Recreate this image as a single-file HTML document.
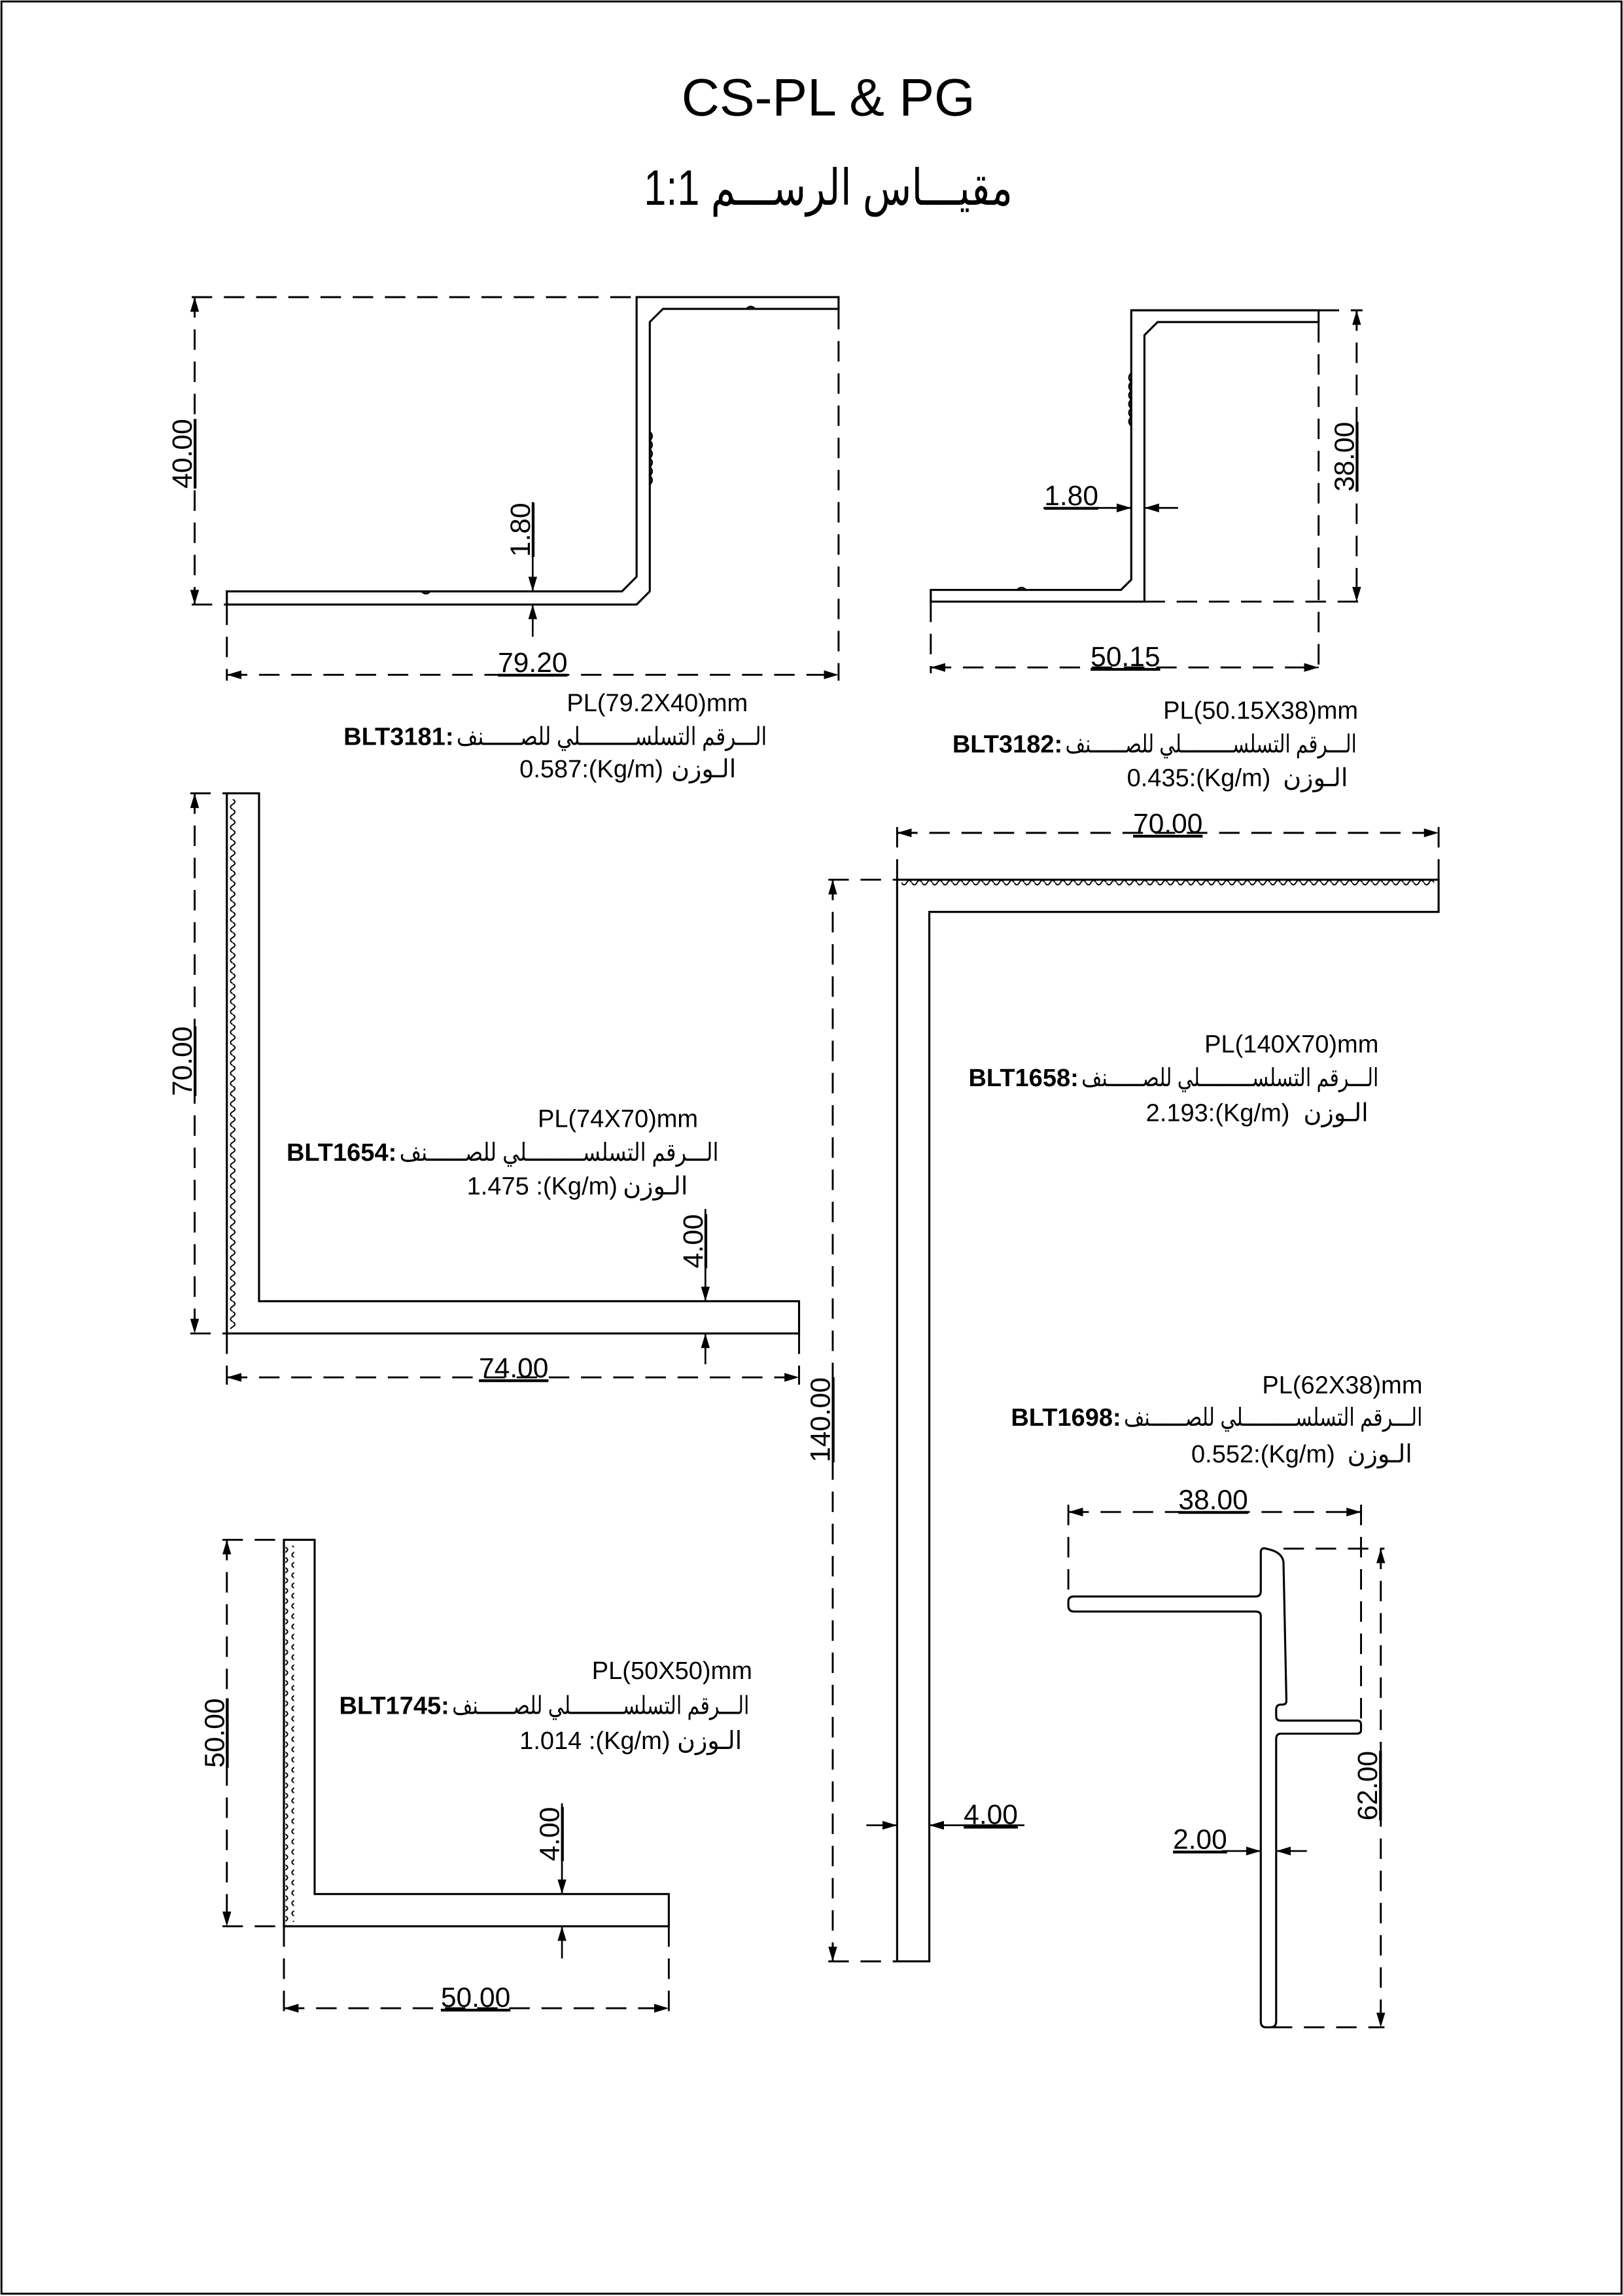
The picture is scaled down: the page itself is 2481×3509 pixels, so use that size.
<!DOCTYPE html>
<html><head><meta charset="utf-8">
<style>
html,body{margin:0;padding:0;background:#fff;}
svg{display:block;}
text{font-family:"Liberation Sans","DejaVu Sans",sans-serif;fill:#000;}
.ar{font-family:"Liberation Sans","DejaVu Sans","Noto Sans CJK SC",sans-serif;}
.p{fill:none;stroke:#000;stroke-width:1.4;}
.d{fill:none;stroke:#000;stroke-width:1.3;stroke-dasharray:14 8;}
.s{fill:none;stroke:#000;stroke-width:1.2;}
.lbl{font-size:17px;}
.dim{font-size:19px;}
</style></head><body>
<svg width="2481" height="3509" viewBox="0 0 1109 1568.6" preserveAspectRatio="none" xmlns="http://www.w3.org/2000/svg">
<defs>
<marker id="a" viewBox="0 0 10 6" refX="10" refY="3" markerWidth="10" markerHeight="6" markerUnits="userSpaceOnUse" orient="auto-start-reverse"><path d="M0 0 L10 3 L0 6 Z" fill="#000"/></marker>
<pattern id="wv" width="6" height="7" patternUnits="userSpaceOnUse"><path d="M3 0 Q6 1.75 3 3.5 Q0 5.25 3 7" fill="none" stroke="#000" stroke-width="0.9"/></pattern>
<pattern id="wh" width="7" height="6" patternUnits="userSpaceOnUse"><path d="M0 3 Q1.75 6 3.5 3 Q5.25 0 7 3" fill="none" stroke="#000" stroke-width="0.9"/></pattern>
</defs>
<rect x="1" y="1" width="1107" height="1566" fill="none" stroke="#000" stroke-width="1.3"/>

<text x="566" y="79" font-size="36" text-anchor="middle">CS-PL &amp; PG</text>
<text x="440" y="140" font-size="34" class="ar" textLength="252" lengthAdjust="spacingAndGlyphs">مقيـــاس الرســـم 1:1</text>

<!-- BLT3181 -->
<path class="p" d="M155 404 L425 404 L435 394 L435 203 L573 203 L573 211 L453 211 L444 220 L444 404 L435 413 L155 413 Z"/>
<path class="s" d="M444 295 q3 3 0 6 q3 3 0 6 q3 3 0 6 q3 3 0 6 q3 3 0 6 q3 3 0 6 M510 211 q3 -3 6 0 M288 404 q3 3 6 0"/>
<line class="d" x1="131" y1="203" x2="435" y2="203"/>
<line class="d" x1="131" y1="413" x2="155" y2="413"/>
<line class="d" x1="133" y1="203" x2="133" y2="413" marker-start="url(#a)" marker-end="url(#a)"/>
<line class="d" x1="573" y1="211" x2="573" y2="465"/>
<line class="d" x1="155" y1="413" x2="155" y2="465"/>
<line class="d" x1="155" y1="461" x2="573" y2="461" marker-start="url(#a)" marker-end="url(#a)"/>
<text x="364" y="459" class="dim" text-anchor="middle" text-decoration="underline">79.20</text>
<text transform="translate(131,310) rotate(-90)" class="dim" text-anchor="middle" text-decoration="underline">40.00</text>
<text transform="translate(362,362) rotate(-90)" class="dim" text-anchor="middle" text-decoration="underline">1.80</text>
<line class="s" x1="364" y1="343" x2="364" y2="404" marker-end="url(#a)"/>
<line class="s" x1="364" y1="435" x2="364" y2="413" marker-end="url(#a)"/>
<text x="511" y="486" class="lbl" text-anchor="end">PL(79.2X40)mm</text>
<text x="310" y="509" class="lbl" text-anchor="end" font-weight="bold">BLT3181:</text>
<text x="312" y="509" class="lbl ar" textLength="212" lengthAdjust="spacingAndGlyphs">الـــرقم التسلســـــــــلي للصــــــنف</text>
<text x="355" y="531" class="lbl">0.587:(Kg/m)</text>
<text x="503" y="531" class="lbl ar" text-anchor="end">الـوزن</text>

<!-- BLT3182 -->
<path class="p" d="M636 403 L766 403 L773 396 L773 212 L901 212 L901 220 L791 220 L782 229 L782 411 L636 411 Z"/>
<path class="s" d="M773 255 q-3 3 0 6 q-3 3 0 6 q-3 3 0 6 q-3 3 0 6 q-3 3 0 6 q-3 3 0 6 M695 403 q3 -3 6 0"/>
<line class="d" x1="901" y1="212" x2="931" y2="212"/>
<line class="d" x1="782" y1="411" x2="931" y2="411"/>
<line class="d" x1="927" y1="212" x2="927" y2="411" marker-start="url(#a)" marker-end="url(#a)"/>
<line class="d" x1="636" y1="411" x2="636" y2="460"/>
<line class="d" x1="901" y1="220" x2="901" y2="460"/>
<line class="d" x1="636" y1="456" x2="901" y2="456" marker-start="url(#a)" marker-end="url(#a)"/>
<text x="769" y="455" class="dim" text-anchor="middle" text-decoration="underline">50.15</text>
<text transform="translate(925,312) rotate(-90)" class="dim" text-anchor="middle" text-decoration="underline">38.00</text>
<text x="732" y="345" class="dim" text-anchor="middle" text-decoration="underline">1.80</text>
<line class="s" x1="713" y1="347" x2="773" y2="347" marker-end="url(#a)"/>
<line class="s" x1="805" y1="347" x2="782" y2="347" marker-end="url(#a)"/>
<text x="928" y="491" class="lbl" text-anchor="end">PL(50.15X38)mm</text>
<text x="726" y="514" class="lbl" text-anchor="end" font-weight="bold">BLT3182:</text>
<text x="728" y="514" class="lbl ar" textLength="199" lengthAdjust="spacingAndGlyphs">الـــرقم التسلســـــــــلي للصــــــنف</text>
<text x="770" y="537" class="lbl">0.435:(Kg/m)</text>
<text x="921" y="537" class="lbl ar" text-anchor="end">الـوزن</text>

<!-- BLT1654 -->
<path class="p" d="M155 542 L177 542 L177 889 L546 889 L546 911 L155 911 Z"/>
<rect x="156" y="546" width="6" height="362" fill="url(#wv)"/>
<line class="d" x1="130" y1="542" x2="155" y2="542"/>
<line class="d" x1="130" y1="911" x2="155" y2="911"/>
<line class="d" x1="133" y1="542" x2="133" y2="911" marker-start="url(#a)" marker-end="url(#a)"/>
<line class="d" x1="155" y1="911" x2="155" y2="946"/>
<line class="d" x1="546" y1="911" x2="546" y2="946"/>
<line class="d" x1="155" y1="941" x2="546" y2="941" marker-start="url(#a)" marker-end="url(#a)"/>
<text x="351" y="941" class="dim" text-anchor="middle" text-decoration="underline">74.00</text>
<text transform="translate(131,725) rotate(-90)" class="dim" text-anchor="middle" text-decoration="underline">70.00</text>
<text transform="translate(480,848) rotate(-90)" class="dim" text-anchor="middle" text-decoration="underline">4.00</text>
<line class="s" x1="482" y1="826" x2="482" y2="889" marker-end="url(#a)"/>
<line class="s" x1="482" y1="932" x2="482" y2="911" marker-end="url(#a)"/>
<text x="477" y="770" class="lbl" text-anchor="end">PL(74X70)mm</text>
<text x="271" y="793" class="lbl" text-anchor="end" font-weight="bold">BLT1654:</text>
<text x="273" y="793" class="lbl ar" textLength="218" lengthAdjust="spacingAndGlyphs">الـــرقم التسلســـــــــلي للصــــــنف</text>
<text x="319" y="816" class="lbl">1.475 :(Kg/m)</text>
<text x="470" y="816" class="lbl ar" text-anchor="end">الـوزن</text>

<!-- BLT1658 -->
<path class="p" d="M613 601 L983 601 L983 623 L635 623 L635 1340 L613 1340 Z"/>
<rect x="616" y="600" width="364" height="6" fill="url(#wh)"/>
<line class="d" x1="613" y1="565" x2="613" y2="601"/>
<line class="d" x1="983" y1="565" x2="983" y2="601"/>
<line class="d" x1="613" y1="569" x2="983" y2="569" marker-start="url(#a)" marker-end="url(#a)"/>
<text x="798" y="569" class="dim" text-anchor="middle" text-decoration="underline">70.00</text>
<line class="d" x1="566" y1="601" x2="613" y2="601"/>
<line class="d" x1="566" y1="1340" x2="613" y2="1340"/>
<line class="d" x1="569" y1="601" x2="569" y2="1340" marker-start="url(#a)" marker-end="url(#a)"/>
<text transform="translate(567,970) rotate(-90)" class="dim" text-anchor="middle" text-decoration="underline">140.00</text>
<text x="677" y="1246" class="dim" text-anchor="middle" text-decoration="underline">4.00</text>
<line class="s" x1="592" y1="1247" x2="613" y2="1247" marker-end="url(#a)"/>
<line class="s" x1="700" y1="1247" x2="635" y2="1247" marker-end="url(#a)"/>
<text x="942" y="719" class="lbl" text-anchor="end">PL(140X70)mm</text>
<text x="737" y="742" class="lbl" text-anchor="end" font-weight="bold">BLT1658:</text>
<text x="739" y="742" class="lbl ar" textLength="203" lengthAdjust="spacingAndGlyphs">الـــرقم التسلســـــــــلي للصــــــنف</text>
<text x="783" y="766" class="lbl">2.193:(Kg/m)</text>
<text x="935" y="766" class="lbl ar" text-anchor="end">الـوزن</text>

<!-- BLT1745 -->
<path class="p" d="M194 1052 L215 1052 L215 1294 L457 1294 L457 1316 L194 1316 Z"/>
<rect x="195" y="1056" width="6" height="257" fill="url(#wv)"/>
<line class="d" x1="152" y1="1052" x2="194" y2="1052"/>
<line class="d" x1="152" y1="1316" x2="194" y2="1316"/>
<line class="d" x1="155" y1="1052" x2="155" y2="1316" marker-start="url(#a)" marker-end="url(#a)"/>
<line class="d" x1="194" y1="1316" x2="194" y2="1376"/>
<line class="d" x1="457" y1="1316" x2="457" y2="1376"/>
<line class="d" x1="194" y1="1372" x2="457" y2="1372" marker-start="url(#a)" marker-end="url(#a)"/>
<text x="325" y="1371" class="dim" text-anchor="middle" text-decoration="underline">50.00</text>
<text transform="translate(153,1184) rotate(-90)" class="dim" text-anchor="middle" text-decoration="underline">50.00</text>
<text transform="translate(382,1253) rotate(-90)" class="dim" text-anchor="middle" text-decoration="underline">4.00</text>
<line class="s" x1="384" y1="1232" x2="384" y2="1294" marker-end="url(#a)"/>
<line class="s" x1="384" y1="1338" x2="384" y2="1316" marker-end="url(#a)"/>
<text x="514" y="1147" class="lbl" text-anchor="end">PL(50X50)mm</text>
<text x="307" y="1171" class="lbl" text-anchor="end" font-weight="bold">BLT1745:</text>
<text x="309" y="1171" class="lbl ar" textLength="203" lengthAdjust="spacingAndGlyphs">الـــرقم التسلســـــــــلي للصــــــنف</text>
<text x="355" y="1195" class="lbl">1.014 :(Kg/m)</text>
<text x="507" y="1195" class="lbl ar" text-anchor="end">الـوزن</text>

<!-- BLT1698 -->
<path class="p" d="M861.5 1060 Q862 1057 865 1058 Q876 1060 877 1067 L879 1162 Q879 1164.6 876 1164.6 L874.5 1164.6 Q872 1165 872 1168 L872 1172.5 Q872 1175.5 875 1175.5 L928 1175.5 Q930 1176 930 1178 L930 1182 Q930 1184.4 927 1184.4 L875 1184.4 Q872 1184.6 872 1188 L872 1381 Q872 1385 868 1385 L865 1385 Q861.5 1385 861.5 1381 L861.5 1104 Q861.5 1101 858 1101 L734 1101 Q730 1101 730 1097 L730 1094 Q730 1090.7 734 1090.7 L858 1090.7 Q861.5 1090.7 861.5 1087 Z"/>
<line class="d" x1="730" y1="1028" x2="730" y2="1090"/>
<line class="d" x1="930" y1="1028" x2="930" y2="1175"/>
<line class="d" x1="730" y1="1033" x2="930" y2="1033" marker-start="url(#a)" marker-end="url(#a)"/>
<text x="829" y="1031" class="dim" text-anchor="middle" text-decoration="underline">38.00</text>
<line class="d" x1="877" y1="1058" x2="946" y2="1058"/>
<line class="d" x1="869" y1="1385" x2="946" y2="1385"/>
<line class="d" x1="943.5" y1="1058" x2="943.5" y2="1385" marker-start="url(#a)" marker-end="url(#a)"/>
<text transform="translate(941,1220) rotate(-90)" class="dim" text-anchor="middle" text-decoration="underline">62.00</text>
<text x="820" y="1263" class="dim" text-anchor="middle" text-decoration="underline">2.00</text>
<line class="s" x1="835" y1="1264.6" x2="861.5" y2="1264.6" marker-end="url(#a)"/>
<line class="s" x1="893" y1="1264.6" x2="872" y2="1264.6" marker-end="url(#a)"/>
<text x="972" y="952" class="lbl" text-anchor="end">PL(62X38)mm</text>
<text x="766" y="974" class="lbl" text-anchor="end" font-weight="bold">BLT1698:</text>
<text x="768" y="974" class="lbl ar" textLength="204" lengthAdjust="spacingAndGlyphs">الـــرقم التسلســـــــــلي للصــــــنف</text>
<text x="814" y="999" class="lbl">0.552:(Kg/m)</text>
<text x="965" y="999" class="lbl ar" text-anchor="end">الـوزن</text>
</svg>
</body></html>
